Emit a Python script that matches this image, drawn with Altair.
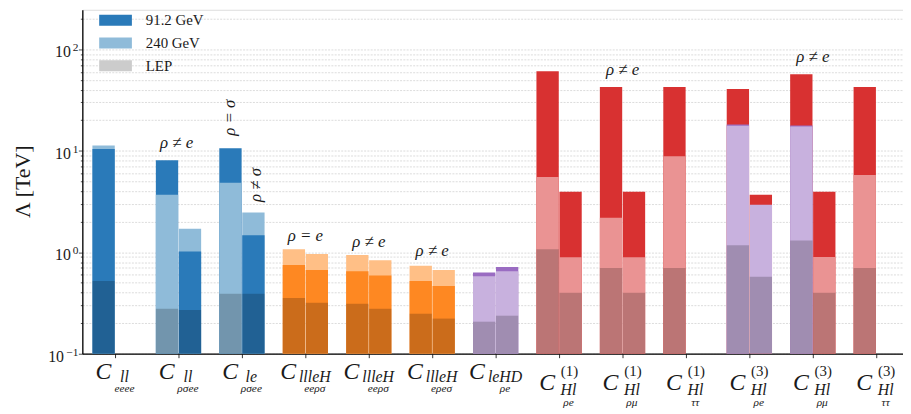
import altair as alt
import pandas as pd

# ---------------- data ----------------
# x-axis label pieces for each coefficient group (C_{sub} with sup / sub-sub indices)
label_sub = ["ll", "ll", "le", "llleH", "llleH", "llleH", "leHD", "Hl", "Hl", "Hl", "Hl", "Hl", "Hl"]
label_subsub = ["eeee", "ρσee", "ρσee", "eeρσ", "eeρσ", "eρeσ", "ρe", "ρe", "ρμ", "ττ", "ρe", "ρμ", "ττ"]
label_sup = ["", "", "", "", "", "", "", "(1)", "(1)", "(1)", "(3)", "(3)", "(3)"]

# coloured bar segments: group index, side of the pair, Λ [TeV], shade
seg_group = [0, 0,
             1, 1, 1, 1,
             2, 2, 2, 2,
             3, 3, 3, 3,
             4, 4, 4, 4,
             5, 5, 5, 5,
             6, 6, 6, 6,
             7, 7, 7, 7,
             8, 8, 8, 8,
             9, 9,
             10, 10, 10, 10, 10,
             11, 11, 11, 11, 11,
             12, 12]
seg_side = ["L", "L",
            "L", "L", "R", "R",
            "L", "L", "R", "R",
            "L", "L", "R", "R",
            "L", "L", "R", "R",
            "L", "L", "R", "R",
            "L", "L", "R", "R",
            "L", "L", "R", "R",
            "L", "L", "R", "R",
            "L", "L",
            "L", "L", "L", "R", "R",
            "L", "L", "L", "R", "R",
            "L", "L"]
seg_value = [10.4, 11.3,
             8.06, 3.68, 1.71, 1.02,
             10.6, 4.85, 2.46, 1.47,
             1.07, 0.75, 0.96, 0.67,
             0.94, 0.65, 0.835, 0.59,
             0.735, 0.52, 0.67, 0.466,
             0.633, 0.58, 0.714, 0.65,
             61.0, 5.52, 3.94, 0.894,
             42.6, 2.19, 3.94, 0.894,
             42.6, 8.83,
             40.7, 18.2, 17.7, 3.68, 2.94,
             57.0, 17.8, 17.4, 3.94, 0.90,
             42.6, 5.77]
seg_shade = ["blue", "blue_l",
             "blue", "blue_l", "blue_l", "blue",
             "blue", "blue_l", "blue_l", "blue",
             "orange_l", "orange", "orange_l", "orange",
             "orange_l", "orange", "orange_l", "orange",
             "orange_l", "orange", "orange_l", "orange",
             "purple", "purple_l", "purple", "purple_l",
             "red", "red_l", "red", "red_l",
             "red", "red_l", "red", "red_l",
             "red", "red_l",
             "red", "purple", "purple_l", "red", "purple_l",
             "red", "purple", "purple_l", "red", "red_l",
             "red", "red_l"]

# LEP bounds (grey overlay)
lep_group = [0, 1, 1, 2, 2, 3, 3, 4, 4, 5, 5, 6, 6, 7, 7, 8, 8, 9, 10, 10, 11, 11, 12]
lep_side = ["L", "L", "R", "L", "R", "L", "R", "L", "R", "L", "R", "L", "R",
            "L", "R", "L", "R", "L", "L", "R", "L", "R", "L"]
lep_value = [0.52, 0.278, 0.27, 0.39, 0.39, 0.355, 0.318, 0.31, 0.278, 0.248, 0.222,
             0.207, 0.237, 1.07, 0.398, 0.698, 0.398, 0.698, 1.17, 0.575, 1.31, 0.40, 0.70]

# annotations
ann_text = ["ρ ≠ e", "ρ = σ", "ρ ≠ σ", "ρ = e", "ρ ≠ e", "ρ ≠ e", "ρ ≠ e", "ρ ≠ e"]
ann_group = [1, 2, 2, 3, 4, 5, 8, 11]
ann_shift = [-0.03, -0.19, 0.22, 0.0, 0.0, 0.0, 0.0, 0.0]
ann_value = [11.8, 21.2, 4.6, 1.43, 1.25, 1.02, 62.7, 83.4]
ann_angle = [0, 270, 270, 0, 0, 0, 0, 0]

# y-axis decade labels: 10^exp
decade_values = [0.1, 1, 10, 100]
decade_exps = ["−1", "0", "1", "2"]

legend_labels = ["91.2 GeV", "240 GeV", "LEP"]

# ---------------- style ----------------
palette = {
    "blue": "#2a7ab9", "blue_l": "#8fbbd9",
    "orange": "#fe8822", "orange_l": "#ffbf86",
    "purple": "#9a6cc2", "purple_l": "#c8b1de",
    "red": "#d83131", "red_l": "#ea9393",
}
legend_colors = ["#2a7ab9", "#8fbbd9", "#cccccc"]
SERIF = "Liberation Serif"
INK = "#1a1a1a"
W, H = 828, 347
PX = 64.0  # pixels per group unit

segs = pd.DataFrame(dict(g=seg_group, side=seg_side, v=seg_value, shade=seg_shade))
segs["color"] = segs["shade"].map(palette)
segs = segs.sort_values("v", ascending=False).reset_index(drop=True)
lep = pd.DataFrame(dict(g=lep_group, side=lep_side, v=lep_value))
ann = pd.DataFrame(dict(t=ann_text, g=ann_group, s=ann_shift, v=ann_value, a=ann_angle))
ann["x"] = ann["g"] + ann["s"]
dec = pd.DataFrame(dict(v=decade_values, e=decade_exps))

xscale = alt.Scale(domain=[-0.516, 12.422], nice=False, zero=False)
yscale = alt.Scale(type="log", domain=[0.1, 245.5], nice=False)

tick_vals = [m * 10.0 ** e for e in (-1, 0, 1, 2) for m in range(1, 10) if m * 10.0 ** e <= 245]
is_major = "abs(log(datum.value)/LN10 - round(log(datum.value)/LN10)) < 0.001"

yaxis = alt.Axis(
    values=tick_vals,
    labelExpr="(datum.value==100||datum.value==10||datum.value==1||datum.value==0.1)?'10':''",
    labelFont=SERIF, labelFontSize=16, labelColor=INK,
    labelPadding={"condition": {"test": "datum.value==0.1", "value": 15}, "value": 8},
    labelOffset=2.5, labelBaseline="middle",
    tickSize={"condition": {"test": is_major, "value": 4}, "value": 2},
    tickColor="#222", tickWidth=0.8,
    grid=True, gridDash=[2, 1.3], gridColor="#d2d2d2", gridWidth=0.8,
    domainColor="black", domainWidth=1.3,
    title="Λ [TeV]", titleFont=SERIF, titleFontSize=22, titleFontWeight="normal",
    titleColor=INK, titleX=-60, titleY=173, titleAngle=270, titleAlign="center",
    titleBaseline="middle",
)
xaxis = alt.Axis(values=list(range(13)), labels=False, title=None, grid=False,
                 tickSize=4, tickColor="#333", tickWidth=1,
                 domainColor="black", domainWidth=1.3)

side_x0 = "datum.g + (datum.side == 'L' ? -0.357 : 0.005)"
side_x1 = "datum.g + (datum.side == 'L' ? -0.005 : 0.357)"

bars = alt.Chart(segs).transform_calculate(x0=side_x0, x1=side_x1).mark_rect().encode(
    x=alt.X("x0:Q", scale=xscale, axis=xaxis),
    x2="x1:Q",
    y=alt.Y("v:Q", scale=yscale, axis=yaxis),
    y2=alt.Y2(datum=0.1),
    color=alt.Color("color:N", scale=None),
)

lep_bars = alt.Chart(lep).transform_calculate(x0=side_x0, x1=side_x1).mark_rect(
    color="black", opacity=0.2
).encode(
    x=alt.X("x0:Q", scale=xscale),
    x2="x1:Q",
    y=alt.Y("v:Q", scale=yscale),
    y2=alt.Y2(datum=0.1),
)

exp_layer = alt.Chart(dec).mark_text(
    font=SERIF, fontSize=11.5, align="right", baseline="alphabetic", dy=2, color=INK
).encode(
    x=alt.value(-4),
    y=alt.Y("v:Q", scale=yscale),
    text="e:N",
)

ann_layers = []
for ang in (0, 270):
    ann_layers.append(
        alt.Chart(ann[ann["a"] == ang]).mark_text(
            font=SERIF, fontStyle="italic", fontSize=17, color=INK,
            align="center", baseline="middle", angle=ang,
        ).encode(
            x=alt.X("x:Q", scale=xscale),
            y=alt.Y("v:Q", scale=yscale),
            text="t:N",
        )
    )

# ---- x tick labels built from pieces ----
sub_w = {"l": 4.4, "e": 7.1, "H": 11.6, "D": 11.6}


def width_of(s, size, table=None):
    if table:
        return sum(table.get(c, 0.5 * size) for c in s)
    return len(s) * 0.47 * size


rows = []
for i in range(13):
    w = max(width_of(label_sub[i], 16, sub_w), width_of(label_subsub[i], 11),
            width_of(label_sup[i], 15) if label_sup[i] else 0)
    has_sup = label_sup[i] != ""
    c_right = 6.5 - w / 2.0
    block = 9.5
    rows.append(dict(part="C", sup=has_sup, t="C", x=i + c_right / PX))
    rows.append(dict(part="sub", sup=has_sup, t=label_sub[i], x=i + block / PX))
    rows.append(dict(part="subsub", sup=has_sup, t=label_subsub[i], x=i + block / PX))
    if has_sup:
        rows.append(dict(part="sup", sup=has_sup, t=label_sup[i], x=i + (block + 1) / PX))
labels = pd.DataFrame(rows)

part_style = {
    "C": dict(size=24, align="right", italic=True),
    "sub": dict(size=16, align="center", italic=True),
    "subsub": dict(size=11.5, align="center", italic=True),
    "sup": dict(size=15, align="center", italic=False),
}
baseline_px = {
    (False, "C"): 373, (False, "sub"): 376, (False, "subsub"): 386,
    (True, "sup"): 369, (True, "C"): 384, (True, "sub"): 389, (True, "subsub"): 400,
}
label_layers = []
for (has_sup, part), ypx in baseline_px.items():
    sub_df = labels[(labels["sup"] == has_sup) & (labels["part"] == part)]
    st = part_style[part]
    label_layers.append(
        alt.Chart(sub_df).mark_text(
            font=SERIF, fontStyle="italic" if st["italic"] else "normal",
            fontSize=st["size"], align=st["align"], baseline="alphabetic", color=INK,
        ).encode(
            x=alt.X("x:Q", scale=xscale),
            y=alt.value(ypx),
            text="t:N",
        )
    )

# ---- legend ----
leg_df = pd.DataFrame(dict(label=legend_labels))
legend_layer = alt.Chart(leg_df).mark_square(opacity=0).encode(
    x=alt.value(0), y=alt.value(0),
    color=alt.Color(
        "label:N", sort=None,
        scale=alt.Scale(domain=legend_labels, range=legend_colors),
        legend=alt.Legend(
            title=None, orient="none", legendX=26, legendY=3,
            symbolType="M-3,-1L3,-1L3,1L-3,1Z", symbolSize=121,
            symbolOpacity=1, symbolStrokeWidth=0,
            labelFont=SERIF, labelFontSize=15, labelColor=INK,
            labelOffset=23, rowPadding=7, padding=0,
        ),
    ),
)

chart = alt.layer(bars, lep_bars, exp_layer, *ann_layers, *label_layers, legend_layer).properties(
    width=W, height=H,
    autosize=alt.AutoSizeParams(type="none"),
    padding={"left": 75, "top": 0, "right": 0, "bottom": 59},
).configure_view(strokeWidth=0).configure(font=SERIF)

chart.save("out.html", embed_options={"renderer": "svg", "actions": False})
